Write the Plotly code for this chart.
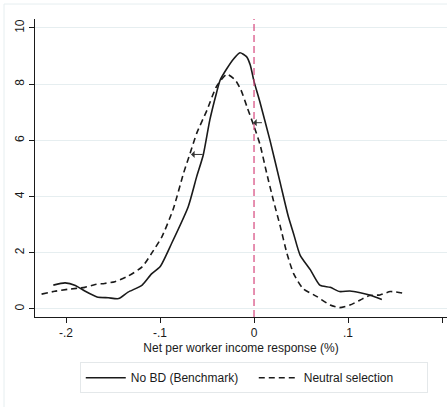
import plotly.graph_objects as go

# Kernel density: No BD (Benchmark)
bench_x = [-0.2135, -0.201, -0.190, -0.180, -0.167, -0.155, -0.144, -0.134, -0.119, -0.109,
           -0.100, -0.0876, -0.070, -0.061, -0.054, -0.047, -0.040, -0.036, -0.029, -0.022,
           -0.015, -0.008, -0.004, 0.0, 0.006, 0.017, 0.028, 0.0365, 0.042, 0.049,
           0.060, 0.070, 0.081, 0.091, 0.102, 0.113, 0.123, 0.136]
bench_y = [0.85, 0.93, 0.84, 0.64, 0.43, 0.40, 0.37, 0.60, 0.85, 1.25,
           1.50, 2.34, 3.64, 4.71, 5.48, 6.73, 7.68, 8.15, 8.55, 8.89,
           9.12, 8.98, 8.68, 8.10, 7.40, 6.00, 4.47, 3.29, 2.69, 1.92,
           1.39, 0.85, 0.77, 0.62, 0.64, 0.58, 0.50, 0.34]

# Kernel density: Neutral selection
neutral_x = [-0.226, -0.212, -0.198, -0.180, -0.169, -0.159, -0.148, -0.134, -0.119, -0.109,
             -0.098, -0.086, -0.075, -0.068, -0.061, -0.050, -0.040, -0.029, -0.020, -0.014,
             -0.007, 0.0, 0.0064, 0.0135, 0.0205, 0.028, 0.035, 0.042, 0.052, 0.067,
             0.081, 0.091, 0.102, 0.113, 0.123, 0.134, 0.145, 0.159]
neutral_y = [0.53, 0.63, 0.70, 0.77, 0.87, 0.91, 0.97, 1.17, 1.50, 1.98,
             2.57, 3.55, 4.83, 5.54, 6.25, 7.08, 7.91, 8.35, 8.15, 7.80,
             7.15, 6.50, 5.85, 4.83, 3.88, 2.93, 1.98, 1.27, 0.73, 0.44,
             0.14, 0.05, 0.14, 0.32, 0.48, 0.50, 0.62, 0.56]

# Arrows (head x, tail x, y)
arrow_head_x = [-0.067, -0.001]
arrow_tail_x = [-0.053, 0.010]
arrow_y = [5.5, 6.63]

x_ticks = [-0.2, -0.1, 0, 0.1, 0.2]
x_labels = ["-.2", "-.1", "0", ".1", ".2"]
y_ticks = [0, 2, 4, 6, 8, 10]
y_labels = ["0", "2", "4", "6", "8", "10"]

FONT = "Liberation Sans, Arial, sans-serif"
INK = "#1a1a1a"

fig = go.Figure()
fig.add_trace(go.Scatter(x=bench_x, y=bench_y, mode="lines", name="No BD (Benchmark)",
                         line=dict(color=INK, width=1.6, shape="spline", smoothing=0.6)))
fig.add_trace(go.Scatter(x=neutral_x, y=neutral_y, mode="lines", name="Neutral selection",
                         line=dict(color=INK, width=1.6, dash="6px,4px", shape="spline", smoothing=0.6)))

fig.add_shape(type="line", x0=0, x1=0, y0=0, y1=1, xref="x", yref="paper",
              line=dict(color="#d6467c", width=1.2, dash="7px,4px"))

for hx, tx, yy in zip(arrow_head_x, arrow_tail_x, arrow_y):
    fig.add_annotation(x=hx, y=yy, ax=tx, ay=yy, axref="x", ayref="y", xref="x", yref="y",
                       text="", showarrow=True, arrowhead=1, arrowsize=1.2, arrowwidth=1,
                       arrowcolor="#333333", standoff=0, startstandoff=0)

# outer graph-region border
fig.add_shape(type="rect", xref="paper", yref="paper",
              x0=(4 - 35) / 412, x1=1.02,
              y0=(317 - 410) / 298, y1=(317 - 4) / 298,
              line=dict(color="#e6eef0", width=1), fillcolor="rgba(0,0,0,0)", layer="below")

fig.update_layout(
    width=447, height=407,
    margin=dict(l=35, r=0, t=19, b=90),
    paper_bgcolor="white", plot_bgcolor="white",
    font=dict(family=FONT, size=12, color=INK),
    showlegend=True,
    legend=dict(orientation="h", x=0.531, xanchor="center", y=-0.152, yanchor="top",
                bordercolor="#e4e8ea", borderwidth=1, bgcolor="white",
                font=dict(family=FONT, size=12, color=INK),
                itemwidth=40, entrywidth=118, entrywidthmode="pixels"),
    xaxis=dict(range=[-0.233, 0.2053], tickmode="array", tickvals=x_ticks, ticktext=x_labels,
               showgrid=False, zeroline=False, showline=True, linecolor=INK, linewidth=1,
               ticks="outside", ticklen=5, tickcolor=INK, tickfont=dict(size=12),
               title=dict(text="Net per worker income response (%)", standoff=4,
                          font=dict(size=12))),
    yaxis=dict(range=[-0.285, 10.32], tickmode="array", tickvals=y_ticks, ticktext=y_labels,
               showgrid=True, gridcolor="#e6eef0", gridwidth=1, zeroline=False,
               showline=True, linecolor=INK, linewidth=1,
               ticks="outside", ticklen=5, tickcolor=INK, tickangle=-90, tickfont=dict(size=12)),
)

fig.write_html("out.html")
